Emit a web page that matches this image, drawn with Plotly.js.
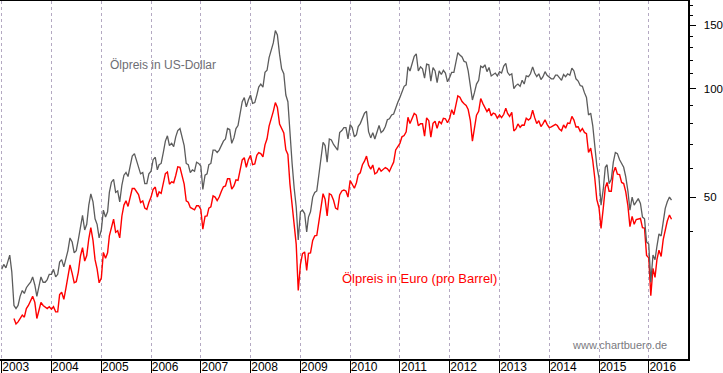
<!DOCTYPE html>
<html><head><meta charset="utf-8">
<script src="https://cdn.plot.ly/plotly-3.0.1.min.js"></script>
<style>html,body{margin:0;padding:0;background:#fff;} #chart{width:723px;height:373px;}</style>
</head><body><div id="chart"></div>
<script>
// semi-monthly observations (1st and 16th of each month), Jan 2003 - Jun 2016
const firstYear = 2003, lastYear = 2016, lastMonth = 6;
const yearTicks = ['2003-01-01','2004-01-01','2005-01-01','2006-01-01','2007-01-01','2008-01-01','2009-01-01','2010-01-01','2011-01-01','2012-01-01','2013-01-01','2014-01-01','2015-01-01','2016-01-01'];
const yearLabels = ['2003','2004','2005','2006','2007','2008','2009','2010','2011','2012','2013','2014','2015','2016'];
const priceTicks = [50, 100, 150];
const priceMinorTicks = [40, 60, 70, 80, 90, 110, 120, 130, 140, 160, 170];

const usdPrice = [
 31.5,32.5,31.8,33.5,34.5,31.0,25.0,24.5,25.0,26.5,27.5,27.0,28.0,28.5,29.0,30.0,28.5,26.5,28.0,30.0,29.0,29.0,29.5,30.5,
 30.5,31.5,30.0,30.5,33.0,33.5,32.0,33.5,35.5,38.5,37.5,35.0,35.5,38.0,41.5,44.5,40.5,42.0,47.5,51.0,48.5,43.5,42.0,38.5,
 40.5,46.0,44.0,45.5,51.5,55.0,56.0,51.5,52.0,48.5,54.0,57.5,58.5,57.0,61.0,65.0,66.0,63.0,61.0,58.0,58.5,54.5,54.5,58.0,
 59.0,63.5,64.5,59.5,61.5,62.0,66.5,71.5,74.0,69.5,70.5,69.0,73.5,76.5,77.5,73.5,69.5,62.0,61.5,58.5,59.5,59.0,62.5,62.0,
 61.0,52.5,57.5,58.0,61.5,62.0,67.5,67.5,66.5,67.5,70.0,71.5,72.5,77.5,77.0,70.5,73.0,77.5,79.0,84.5,92.0,94.5,89.0,93.0,
 96.0,91.0,91.5,96.0,101.0,103.0,101.0,111.0,112.5,122.0,127.5,134.0,145.0,141.0,124.5,113.5,110.0,96.0,92.0,73.5,62.0,53.0,47.0,38.0,
 45.5,46.0,45.0,40.0,44.0,45.5,50.0,51.5,52.0,57.5,65.5,71.0,69.5,62.5,72.5,72.0,70.0,68.5,67.5,75.5,76.5,78.0,78.0,72.5,
 79.5,78.0,73.5,74.5,78.5,80.0,83.0,85.5,86.5,76.0,73.0,75.5,72.5,75.5,79.0,75.5,76.5,78.5,82.0,82.5,84.5,85.0,88.5,91.5,
 94.5,98.5,101.5,102.5,115.0,112.0,118.0,123.0,125.0,112.0,115.0,113.5,107.0,117.0,116.5,105.0,114.5,112.0,104.0,112.0,109.5,112.5,110.5,104.5,
 107.5,111.0,111.0,118.5,126.0,124.0,122.5,119.0,118.5,112.0,101.0,93.0,97.5,103.0,105.5,115.5,114.5,116.5,111.5,114.5,108.5,109.5,110.5,108.5,
 111.5,110.5,115.5,117.5,111.0,109.0,110.0,100.0,102.0,103.0,101.5,105.5,103.0,108.5,108.0,110.0,115.0,110.5,108.0,110.0,106.0,108.0,111.5,109.0,
 107.5,106.5,106.5,109.0,109.0,107.5,105.5,109.5,108.0,110.0,109.0,114.0,112.0,106.5,105.0,102.0,101.5,97.5,94.5,84.5,85.5,79.0,70.5,61.0,
 56.5,47.5,52.5,60.5,61.5,54.5,56.0,62.5,66.5,66.0,63.5,62.0,60.5,57.0,52.0,46.0,50.0,47.5,48.5,49.5,48.0,44.0,43.5,37.5,
 37.0,29.0,34.5,33.5,36.5,39.5,39.0,43.0,46.5,48.5,50.0,49.0
];

const eurPrice = [
 null,null,null,null,null,null,23.0,22.2,22.5,23.0,23.5,23.2,24.5,25.0,25.8,26.5,25.5,23.0,24.2,25.5,25.0,24.8,24.5,24.8,
 24.4,24.8,24.0,24.0,26.8,27.2,26.0,27.9,29.8,32.4,30.7,28.9,29.1,30.9,34.3,36.2,33.2,34.4,38.3,41.1,37.9,33.5,31.6,28.9,
 29.8,35.1,33.8,35.0,39.0,41.0,43.4,39.9,40.3,38.5,44.3,47.5,48.8,47.1,50.0,52.8,52.8,51.6,50.8,48.3,48.8,46.6,46.2,48.3,
 50.0,52.5,53.3,50.0,51.7,51.2,55.0,58.1,58.7,54.3,55.1,54.8,57.4,60.7,60.5,57.4,54.3,48.8,48.4,46.8,46.5,46.1,47.3,47.3,
 46.2,40.7,44.2,44.3,46.6,47.0,50.4,50.0,48.9,50.0,51.9,53.4,53.7,56.2,56.2,52.6,53.7,55.8,55.6,59.5,63.4,64.3,60.5,63.5,
 65.3,61.5,61.8,65.3,66.4,66.0,64.7,69.8,72.6,78.7,82.3,86.5,91.5,88.7,79.8,77.2,75.3,67.6,65.7,54.4,48.1,41.7,37.0,27.5,
 32.5,34.8,35.2,31.3,34.9,35.0,37.9,39.0,39.1,42.6,46.5,51.1,49.3,44.3,51.1,50.7,49.0,46.6,46.2,50.7,52.0,52.3,52.0,50.0,
 55.6,54.2,52.9,54.8,57.7,58.4,61.5,62.9,65.0,61.3,59.8,61.4,58.0,58.5,60.3,59.0,59.8,60.4,59.9,58.9,60.8,62.5,67.6,68.8,
 70.5,73.5,74.1,75.9,83.3,80.0,83.1,85.4,84.5,78.9,79.9,79.9,73.8,83.0,81.5,73.4,80.1,81.2,77.6,81.2,79.9,82.7,82.5,80.4,
 82.7,87.4,84.7,90.5,95.5,94.7,92.1,90.8,89.8,87.5,81.5,71.5,77.4,84.4,86.5,93.9,90.9,88.9,86.4,88.1,84.1,85.5,85.0,82.8,
 84.5,83.1,84.9,88.3,85.4,83.8,85.9,76.3,77.3,79.8,78.1,79.3,79.2,82.8,81.8,82.7,87.1,83.1,80.0,81.5,78.5,80.0,82.0,79.6,
 77.9,78.3,78.9,79.6,79.0,77.3,76.4,79.3,77.7,80.3,80.1,83.8,81.8,78.3,78.4,76.1,77.5,75.6,75.0,66.5,68.4,63.2,56.4,49.2,
 46.7,40.9,46.5,53.1,54.9,51.9,51.9,58.4,60.5,57.9,57.7,54.9,54.5,51.8,47.3,41.4,44.2,42.0,43.3,43.4,43.6,41.1,41.0,34.4,
 33.9,26.6,31.7,29.9,33.5,35.6,34.2,38.1,40.4,42.9,44.6,43.4
];

const dates = [];
for (let y = firstYear; y <= lastYear; y++) {
  for (let m = 1; m <= 12; m++) {
    if (y === lastYear && m > lastMonth) break;
    const mm = String(m).padStart(2, '0');
    dates.push(y + '-' + mm + '-01');
    dates.push(y + '-' + mm + '-16');
  }
}

const font = 'Liberation Sans, Arial, sans-serif';
const traces = [
  {x: dates, y: eurPrice, type: 'scatter', mode: 'lines', line: {color: '#ff0000', width: 1.4}, hoverinfo: 'skip', showlegend: false},
  {x: dates, y: usdPrice, type: 'scatter', mode: 'lines', line: {color: '#5c5c5c', width: 1.3}, hoverinfo: 'skip', showlegend: false}
];

const layout = {
  width: 723, height: 373,
  margin: {l: 0, r: 35, t: 1, b: 14, pad: 0},
  paper_bgcolor: '#ffffff', plot_bgcolor: '#ffffff',
  showlegend: false,
  font: {family: font, color: '#000'},
  xaxis: {
    type: 'date', range: ['2002-12-19 12:00', '2016-10-15'],
    tickmode: 'array', tickvals: yearTicks, ticktext: yearLabels,
    ticks: 'outside', ticklen: 14, tickwidth: 1, tickcolor: '#000',
    ticklabelshift: 14, ticklabelstandoff: -18,
    tickfont: {family: font, size: 12, color: '#000'},
    showgrid: true, gridcolor: '#b4a9c2', griddash: '3px,3px', gridwidth: 1,
    showline: true, linecolor: '#000', linewidth: 1.5, mirror: true,
    zeroline: false, fixedrange: true
  },
  yaxis: {
    type: 'log', side: 'right',
    range: [Math.log10(17.75), Math.log10(175.2)],
    tickmode: 'array', tickvals: priceTicks, ticktext: priceTicks.map(String),
    ticks: 'outside', ticklen: 6, tickwidth: 1, tickcolor: '#000',
    ticklabelstandoff: 6,
    tickfont: {family: font, size: 11.5, color: '#000'},
    minor: {tickmode: 'array', tickvals: priceMinorTicks, ticks: 'outside', ticklen: 3, tickcolor: '#000', showgrid: false},
    showgrid: false, showline: true, linecolor: '#000', linewidth: 1.5,
    zeroline: false, fixedrange: true
  },
  annotations: [
    {text: 'Ölpreis in US-Dollar', xref: 'paper', yref: 'paper', x: 108/688, y: (359-65)/358, xanchor: 'left', yanchor: 'middle', showarrow: false, font: {family: font, size: 12, color: '#6e6e74'}},
    {text: 'Ölpreis in Euro (pro Barrel)', xref: 'paper', yref: 'paper', x: 340/688, y: (359-278)/358, xanchor: 'left', yanchor: 'middle', showarrow: false, font: {family: font, size: 13, color: '#ff0000'}},
    {text: 'www.chartbuero.de', xref: 'paper', yref: 'paper', x: 570/688, y: (359-345)/358, xanchor: 'left', yanchor: 'middle', showarrow: false, font: {family: font, size: 11, color: '#7a7a80'}}
  ]
};

Plotly.newPlot('chart', traces, layout, {staticPlot: true, displayModeBar: false});
</script>
</body></html>
